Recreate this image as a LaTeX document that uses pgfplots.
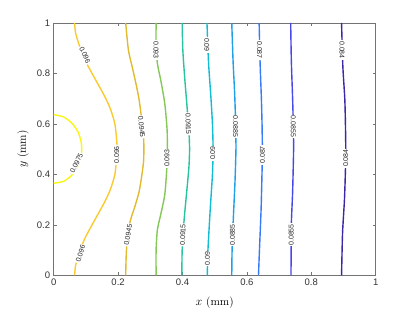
\documentclass[border=0pt]{standalone}
\usepackage{fontspec}
\usepackage{pgfplots}
\pgfplotsset{compat=1.18}
\newfontfamily\ticksf{Liberation Sans}
\definecolor{c084}{RGB}{62,38,168}
\definecolor{c0855}{RGB}{72,72,232}
\definecolor{c087}{RGB}{55,122,250}
\definecolor{c0885}{RGB}{30,160,232}
\definecolor{c09}{RGB}{18,188,212}
\definecolor{c0915}{RGB}{40,195,160}
\definecolor{c093}{RGB}{132,200,88}
\definecolor{c0945}{RGB}{226,186,48}
\definecolor{c096}{RGB}{250,202,48}
\definecolor{c0975}{RGB}{249,245,20}
\tikzset{lbl/.style={fill=white, inner sep=0.8pt, font=\ticksf\fontsize{7}{7}\selectfont, text=black!85}}
\begin{document}
\begin{tikzpicture}
\begin{axis}[
  name=ax,
  scale only axis,
  width=322pt, height=252.3pt,
  xmin=0, xmax=1, ymin=0, ymax=1,
  xtick={0,0.2,0.4,0.6,0.8,1},
  ytick={0,0.2,0.4,0.6,0.8,1},
  tick align=inside,
  major tick length=3.2pt,
  axis line style={draw=black!55, line width=0.6pt},
  tick style={draw=black!55, line width=0.6pt},
  /pgf/number format/assume math mode=true,
  tick label style={font=\ticksf\fontsize{9.5}{10}\selectfont, text=black!80},
  xlabel={$x$ (mm)}, ylabel={$y$ (mm)},
  label style={font=\fontsize{11.5}{12}\selectfont},
  x label style={at={(axis description cs:0.5,-0.107)}, anchor=center},
  y label style={at={(axis description cs:-0.095,0.5)}, anchor=center},
  every axis plot/.append style={line width=1.4pt, smooth, tension=0.4},
]
% 0.0975
\addplot[c0975] coordinates {(0,0.365) (0.03,0.372) (0.055,0.395) (0.075,0.43) (0.085,0.47) (0.087,0.5) (0.085,0.53) (0.075,0.57) (0.055,0.605) (0.03,0.628) (0,0.637)};
% 0.096
\addplot[c096] coordinates {(0.065,0) (0.068,0.04) (0.08,0.09) (0.097,0.147) (0.133,0.232) (0.158,0.29) (0.176,0.34) (0.19,0.4) (0.196,0.47) (0.197,0.5) (0.196,0.53) (0.19,0.6) (0.176,0.66) (0.158,0.71) (0.133,0.768) (0.097,0.853) (0.08,0.91) (0.068,0.96) (0.065,1)};
% 0.0945
\addplot[c0945] coordinates {(0.2236,0) (0.226,0.1) (0.236,0.206) (0.252,0.272) (0.265,0.33) (0.273,0.39) (0.279,0.45) (0.28,0.5) (0.279,0.55) (0.273,0.62) (0.266,0.69) (0.257,0.75) (0.246,0.814) (0.232,0.893) (0.2236,1)};
% 0.093
\addplot[c093] coordinates {(0.318,0) (0.318,0.1) (0.322,0.18) (0.334,0.25) (0.345,0.32) (0.351,0.417) (0.353,0.5) (0.352,0.58) (0.345,0.68) (0.333,0.77) (0.322,0.84) (0.318,0.92) (0.318,1)};
% 0.0915
\addplot[c0915] coordinates {(0.398,0) (0.399,0.1) (0.405,0.22) (0.413,0.33) (0.42,0.43) (0.422,0.5) (0.42,0.57) (0.414,0.67) (0.407,0.78) (0.401,0.893) (0.399,1)};
% 0.09
\addplot[c09] coordinates {(0.477,0) (0.479,0.1) (0.486,0.259) (0.493,0.4) (0.495,0.5) (0.493,0.6) (0.488,0.71) (0.481,0.84) (0.476,1)};
% 0.0885
\addplot[c0885] coordinates {(0.553,0) (0.554,0.1) (0.558,0.23) (0.563,0.37) (0.566,0.5) (0.565,0.6) (0.562,0.72) (0.557,0.85) (0.553,1)};
% 0.087
\addplot[c087] coordinates {(0.636,0) (0.639,0.1) (0.644,0.259) (0.647,0.41) (0.648,0.5) (0.647,0.6) (0.645,0.7) (0.641,0.84) (0.638,1)};
% 0.0855
\addplot[c0855] coordinates {(0.737,0) (0.738,0.2) (0.742,0.33) (0.745,0.5) (0.744,0.6) (0.742,0.7) (0.738,0.85) (0.736,1)};
% 0.084
\addplot[c084] coordinates {(0.894,0) (0.897,0.166) (0.903,0.3) (0.906,0.417) (0.907,0.5) (0.906,0.6) (0.904,0.7) (0.898,0.827) (0.894,1)};
% labels
\node[lbl, rotate=65] at (axis cs:0.071,0.444) {0.0975};
\node[lbl, rotate=-66] at (axis cs:0.097,0.873) {0.096};
\node[lbl, rotate=90] at (axis cs:0.196,0.477) {0.096};
\node[lbl, rotate=72] at (axis cs:0.083,0.085) {0.096};
\node[lbl, rotate=-84] at (axis cs:0.273,0.588) {0.0945};
\node[lbl, rotate=80] at (axis cs:0.231,0.16) {0.0945};
\node[lbl, rotate=-90] at (axis cs:0.318,0.893) {0.093};
\node[lbl, rotate=90] at (axis cs:0.352,0.464) {0.093};
\node[lbl, rotate=-88] at (axis cs:0.418,0.6) {0.0915};
\node[lbl, rotate=88] at (axis cs:0.401,0.16) {0.0915};
\node[lbl, rotate=-90] at (axis cs:0.4755,0.913) {0.09};
\node[lbl, rotate=90] at (axis cs:0.494,0.484) {0.09};
\node[lbl, rotate=90] at (axis cs:0.4775,0.067) {0.09};
\node[lbl, rotate=-90] at (axis cs:0.565,0.589) {0.0885};
\node[lbl, rotate=90] at (axis cs:0.5555,0.16) {0.0885};
\node[lbl, rotate=-90] at (axis cs:0.6395,0.893) {0.087};
\node[lbl, rotate=90] at (axis cs:0.648,0.477) {0.087};
\node[lbl, rotate=-90] at (axis cs:0.744,0.589) {0.0855};
\node[lbl, rotate=90] at (axis cs:0.738,0.16) {0.0855};
\node[lbl, rotate=-90] at (axis cs:0.8955,0.893) {0.084};
\node[lbl, rotate=90] at (axis cs:0.907,0.464) {0.084};
\end{axis}
\path[use as bounding box] ([xshift=-53.7pt,yshift=-36.7pt]ax.south west) rectangle ([xshift=39.3pt,yshift=23pt]ax.north east);
\end{tikzpicture}
\end{document}
